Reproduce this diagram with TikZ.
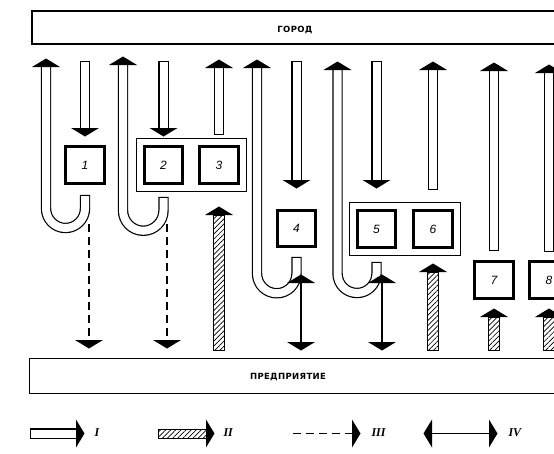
\documentclass[tikz,border=0pt]{standalone}
\usepackage{fontspec}
\setmainfont{DejaVu Sans}
\newfontfamily\barfont{DejaVu Sans}[LetterSpace=4]
\newfontfamily\numfont{Liberation Sans}
\newfontfamily\romfont{Liberation Serif}
\usetikzlibrary{arrows.meta,patterns.meta,fit}

\tikzset{
  bar/.style={draw, line width=1.3pt, minimum height=33pt, inner sep=0pt},
  barlabel/.style={font=\barfont\bfseries\fontsize{8.5}{10}\selectfont},
  box/.style={draw, line width=3.2pt, minimum width=38.5pt, minimum height=36.5pt,
    inner sep=0pt, font=\numfont\itshape\fontsize{12}{14}\selectfont},
  group/.style={draw, line width=1pt, inner sep=6.5pt},
  hollow/.style={double=white, double distance=8pt, line width=1.2pt, line cap=rect},
  hatched/.style={draw, line width=1pt, pattern={Lines[angle=45, distance=3.6pt, line width=0.7pt]}},
  dashline/.style={line width=1.8pt, dash pattern=on 8pt off 5pt},
  twoway/.style={line width=1.3pt},
  legend/.style={font=\romfont\bfseries\itshape\fontsize{12}{14}\selectfont, anchor=west},
  tip/.pic={\fill (-14,0) -- (14,0) -- (0,8.5) -- cycle;}
}

\begin{document}
\begin{tikzpicture}[x=1pt,y=1pt]
\useasboundingbox (0,0) rectangle (554,-453);
\clip (0,0) rectangle (554,-453);

% Draw the two bars
\node[bar, minimum width=528pt] (city) at (296,-27.5) {};
\node[barlabel] (citylabel) at (295,-30) {ГОРОД};
\node[bar, anchor=north west, minimum width=560pt, minimum height=35pt] (plant) at (29,-358) {};
\node[barlabel] (plantlabel) at (288,-377.5) {ПРЕДПРИЯТИЕ};

% Draw the boxes
\node[box] (b1) at (85,-165) {1};
\node[box] (b2) at (163.5,-165) {2};
\node[box] (b3) at (219,-165) {3};
\node[box] (b4) at (296.5,-228.5) {4};
\node[box] (b5) at (376.5,-229) {5};
\node[box] (b6) at (433,-229) {6};
\node[box] (b7) at (494,-280) {7};
\node[box] (b8) at (549,-280) {8};
\node[group, fit=(b2)(b3)] (g23) {};
\node[group, fit=(b5)(b6)] (g56) {};

% Draw the U-turns back to the city
\foreach \b/\l/\r/\top/\c/\t in {b1/46/19.5/195/208.5/59, b2/123/20.25/197/210.5/57,
    b4/257/19.75/257/273.5/60, b5/337.5/19.5/262/273.5/62} {
  \draw[hollow] (\b |- 0,-\top-5) -- (\b |- 0,-\c) arc (0:-180:\r) -- (\l,-\t-9);
  \pic at (\l,-\t-8) {tip};
}

% Draw the arrows from the city into the boxes
\foreach \b/\t in {b1/136, b2/136, b4/188, b5/188} {
  \draw[hollow] (\b |- 0,-66) -- (\b |- 0,-\t+9);
  \pic[rotate=180] at (\b |- 0,-\t+8) {tip};
}

% Draw the arrows from the boxes to the city
\foreach \b/\s/\t in {b3/135/60, b6/190/62, b7/251/63, b8/252/65} {
  \draw[hollow] (\b |- 0,-\s+5) -- (\b |- 0,-\t-9);
  \pic at (\b |- 0,-\t-8) {tip};
}

% Draw the hatched arrows from the plant
\foreach \b/\t in {b3/207, b6/264, b7/309, b8/309} {
  \draw[hatched] ([xshift=-5.5pt]\b |- plant.north) ++(0,8) rectangle ([xshift=5.5pt]\b |- 0,-\t-8);
  \pic at (\b |- 0,-\t-8) {tip};
}

% Draw the dashed arrows to the plant
\foreach \x in {89,167} {
  \draw[dashline] (\x,-224) -- (\x,-340);
  \pic[rotate=180] at (\x,-340) {tip};
}

% Draw the two-way arrows
\foreach \x in {301,382} {
  \draw[twoway] (\x,-283) -- (\x,-342);
  \pic at (\x,-283) {tip};
  \pic[rotate=180] at (\x,-342) {tip};
}

% Legend
\node[legend] (l1) at (91,-433) {I};
\node[legend] (l2) at (220,-433) {II};
\node[legend] (l3) at (368,-433) {III};
\node[legend] (l4) at (505,-433) {IV};
\draw[hollow] (35,-433.5) -- (75,-433.5);
\pic[rotate=-90] at (76,-433.5) {tip};
\draw[hatched] (158,-429) rectangle (206,-438);
\pic[rotate=-90] at (206,-433.5) {tip};
\draw[dashline] (293,-433.5) -- (352,-433.5);
\pic[rotate=-90] at (352,-433.5) {tip};
\draw[twoway] (432,-433.5) -- (489,-433.5);
\pic[rotate=90] at (432,-433.5) {tip};
\pic[rotate=-90] at (489,-433.5) {tip};

\end{tikzpicture}
\end{document}
